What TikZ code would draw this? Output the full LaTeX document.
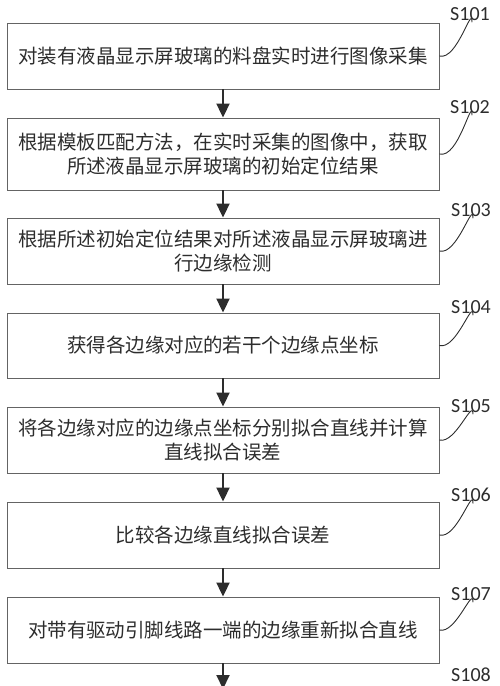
\documentclass[tikz,border=0pt]{standalone}
\usepackage{fontspec}
\setmainfont{Carlito}
\newfontfamily\cjk{Noto Sans CJK SC}
\usetikzlibrary{arrows.meta}

\definecolor{boxline}{RGB}{100,100,100}
\definecolor{inkgray}{RGB}{45,45,45}

\tikzset{
  procbox/.style={draw=boxline,line width=0.9pt,minimum width=432pt,inner sep=0pt,
    align=center,text=inkgray,font=\cjk\fontsize{19.5}{24.5}\selectfont},
  steplabel/.style={inner sep=1.5pt,text=inkgray,font=\fontsize{20}{22}\selectfont},
  flowarrow/.style={draw=inkgray,line width=2pt,-{Triangle[width=13pt,length=14pt]}},
  leader/.style={draw=inkgray,line width=0.9pt}
}

\begin{document}
\begin{tikzpicture}[x=1pt,y=1pt,yscale=-1,xscale=1]
\clip (0,0) rectangle (500,686);
\useasboundingbox (0,0) rectangle (500,686);

% Process boxes
\node [procbox,minimum height=66pt] (b1) at (223,56) {对装有液晶显示屏玻璃的料盘实时进行图像采集};
\node [procbox,minimum height=72pt] (b2) at (223,154) {根据模板匹配方法，在实时采集的图像中，获取\\所述液晶显示屏玻璃的初始定位结果};
\node [procbox,minimum height=66pt] (b3) at (223,251) {根据所述初始定位结果对所述液晶显示屏玻璃进\\行边缘检测};
\node [procbox,minimum height=65pt] (b4) at (223,345.5) {获得各边缘对应的若干个边缘点坐标};
\node [procbox,minimum height=66pt] (b5) at (223,440) {将各边缘对应的边缘点坐标分别拟合直线并计算\\直线拟合误差};
\node [procbox,minimum height=66pt] (b6) at (223,535) {比较各边缘直线拟合误差};
\node [procbox,minimum height=66pt] (b7) at (223,630) {对带有驱动引脚线路一端的边缘重新拟合直线};

% Step labels
\node [steplabel] (s101) at (470,14) {S101};
\node [steplabel] (s102) at (470,107) {S102};
\node [steplabel] (s103) at (471,210) {S103};
\node [steplabel] (s104) at (471,307) {S104};
\node [steplabel] (s105) at (471,406) {S105};
\node [steplabel] (s106) at (471,495) {S106};
\node [steplabel] (s107) at (471,594) {S107};
\node [steplabel] (s108) at (471,675) {S108};

% Arrows
\draw [flowarrow] (b1) -- (b2);
\draw [flowarrow] (b2) -- (b3);
\draw [flowarrow] (b3) -- (b4);
\draw [flowarrow] (b4) -- (b5);
\draw [flowarrow] (b5) -- (b6);
\draw [flowarrow] (b6) -- (b7);
\coordinate (tail) at (223,689);
\draw [flowarrow] (b7) -- (tail);

% Leader curves
\draw [leader] (b1.east) to[out=15,in=-90] ([xshift=2pt]s101.south);
\draw [leader] (b2.east) to[out=15,in=-90] ([xshift=2pt]s102.south);
\draw [leader] (b3.east) to[out=15,in=-90] ([xshift=2pt]s103.south);
\draw [leader] (b4.east) to[out=15,in=-90] ([xshift=2pt]s104.south);
\draw [leader] (b5.east) to[out=15,in=-90] ([xshift=2pt]s105.south);
\draw [leader] (b6.east) to[out=15,in=-90] ([xshift=2pt]s106.south);
\draw [leader] (b7.east) to[out=15,in=-90] ([xshift=2pt]s107.south);

\end{tikzpicture}
\end{document}
